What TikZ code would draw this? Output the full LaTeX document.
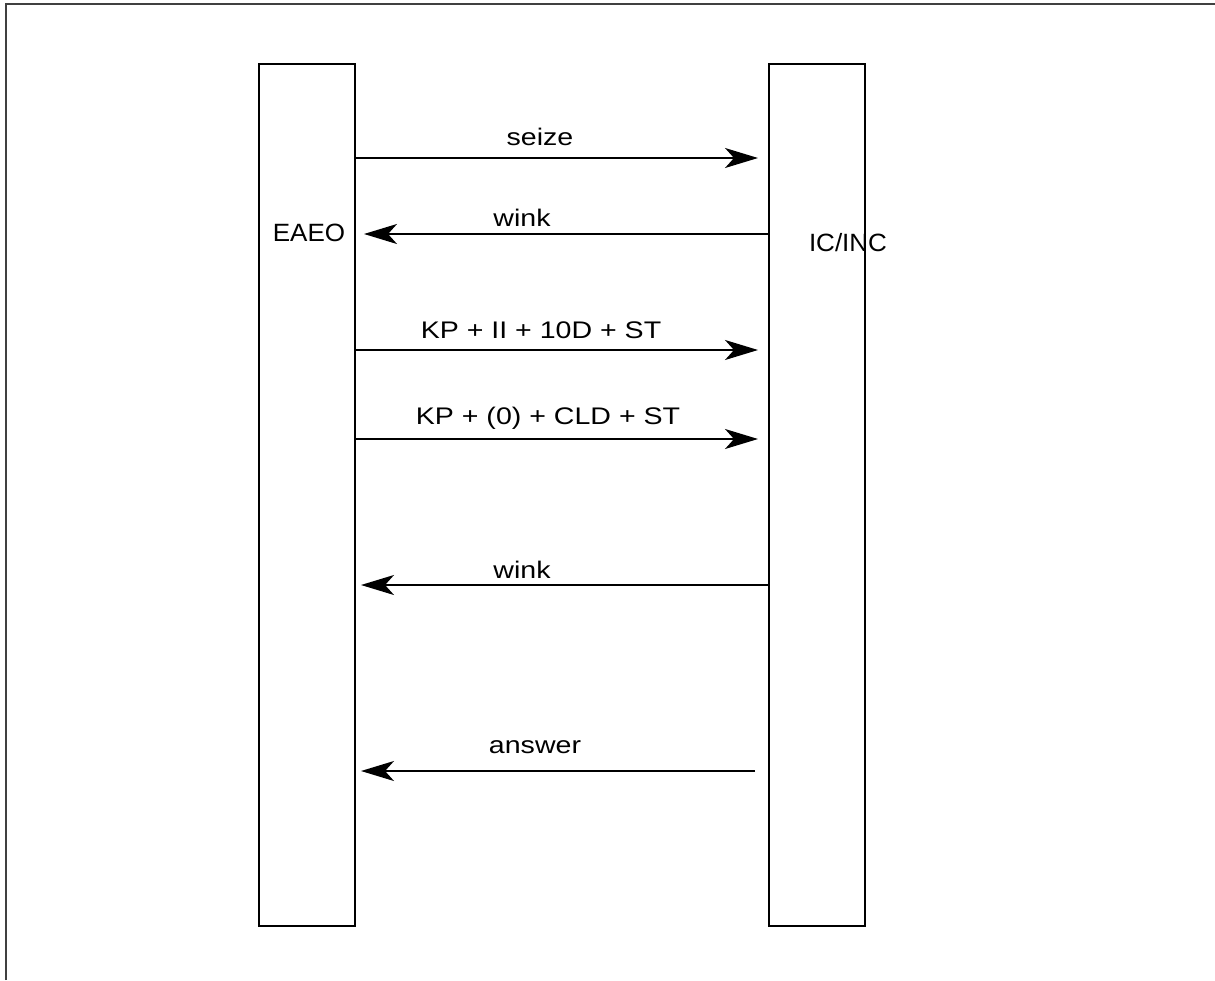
\documentclass[tikz,border=0pt]{standalone}
\usepackage{fontspec}
\setmainfont{Liberation Sans}
\newfontfamily\lblfont[FakeStretch=1.19]{Liberation Sans}
\newfontfamily\plblfont[FakeStretch=1.04]{Liberation Sans}
\usetikzlibrary{arrows.meta}
\tikzset{
  party/.style={draw, line width=2pt, minimum width=96pt, minimum height=862pt, inner sep=0pt, anchor=north west},
  msg/.style={line width=2pt, -{Stealth[length=33pt, width=20pt, inset=9pt]}},
  lbl/.style={font=\lblfont\fontsize{24}{26}\selectfont, inner sep=0pt},
  plbl/.style={font=\plblfont\fontsize{25}{27}\selectfont, inner sep=0pt}
}
\begin{document}
\begin{tikzpicture}[x=1pt,y=-1pt]
\useasboundingbox (0,0) rectangle (1215,980);
\draw[line width=2pt, black!75] (6,980) -- (6,4) -- (1215,4);
\node[party] (L) at (258,63) {};
\node[party] (R) at (768,63) {};
\node[plbl] (eaeo) at (309,233) {EAEO};
\node[plbl] (icinc) at (848,243) {IC/INC};
% coordinates for message endpoints
\coordinate (s1) at (L.east |- 0,158);
\coordinate (t1) at (758,158);
\coordinate (s2) at (R.west |- 0,234);
\coordinate (t2) at (364,234);
\coordinate (s3) at (L.east |- 0,350);
\coordinate (t3) at (758,350);
\coordinate (s4) at (L.east |- 0,439);
\coordinate (t4) at (758,439);
\coordinate (s5) at (R.west |- 0,585);
\coordinate (t5) at (361,585);
\coordinate (s6) at (755,771);
\coordinate (t6) at (361,771);
\draw[msg] (s1) -- (t1);
\draw[msg] (s2) -- (t2);
\draw[msg] (s3) -- (t3);
\draw[msg] (s4) -- (t4);
\draw[msg] (s5) -- (t5);
\draw[msg] (s6) -- (t6);
\node[lbl] (m1) at (540,137) {seize};
\node[lbl] (m2) at (522,218) {wink};
\node[lbl] (m3) at (541,330) {KP + II + 10D + ST};
\node[lbl] (m4) at (548,418) {KP + (0) + CLD + ST};
\node[lbl] (m5) at (522,570) {wink};
\node[lbl] (m6) at (535,747) {answer};
\end{tikzpicture}
\end{document}
